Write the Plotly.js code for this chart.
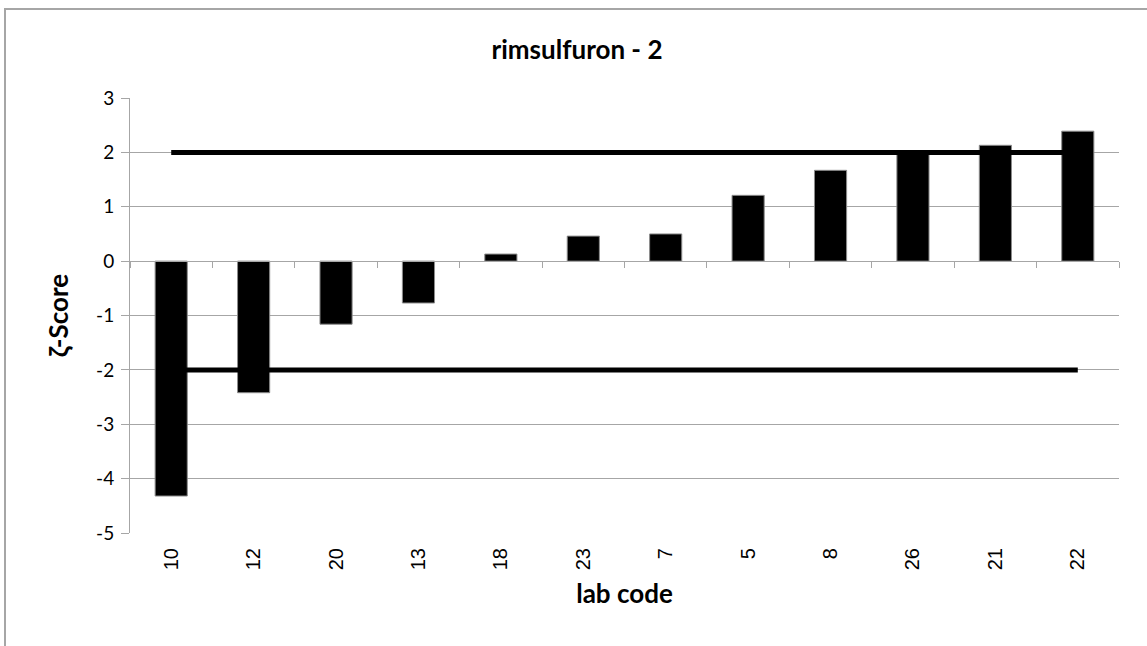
<!DOCTYPE html>
<html>
<head>
<meta charset="utf-8">
<script src="https://cdn.plot.ly/plotly-3.0.1.min.js"></script>
<style>
  html, body { margin: 0; padding: 0; background: #fff; overflow: hidden; }
  #wrap { position: relative; width: 1147px; height: 646px; }
  #chart { position: absolute; left: 0; top: 0; width: 1147px; height: 646px; }
  #frame { position: absolute; left: 4px; top: 8px; width: 1300px; height: 800px;
           border-left: 2px solid #a6a6a6; border-top: 2px solid #a6a6a6; pointer-events: none; }
</style>
</head>
<body>
<div id="wrap">
  <div id="chart"></div>
  <div id="frame"></div>
</div>
<script>
const labCodes = ['10','12','20','13','18','23','7','5','8','26','21','22'];
const zScores  = [-4.32, -2.42, -1.16, -0.77, 0.13, 0.46, 0.50, 1.21, 1.67, 1.97, 2.13, 2.39];
const upperLimit = [2,2,2,2,2,2,2,2,2,2,2,2];
const lowerLimit = [-2,-2,-2,-2,-2,-2,-2,-2,-2,-2,-2,-2];
const yTicks = [3,2,1,0,-1,-2,-3,-4,-5];

const gridCol = '#a6a6a6';
const catRange = [-0.5, labCodes.length - 0.5];
const traces = [
  {
    type: 'bar', x: labCodes, y: zScores,
    marker: { color: '#000000', line: { color: '#8c8c8c', width: 1 } },
    hoverinfo: 'x+y', showlegend: false
  },
  {
    type: 'scatter', mode: 'lines', x: labCodes, y: upperLimit,
    line: { color: '#000000', width: 5 }, showlegend: false, hoverinfo: 'skip'
  },
  {
    type: 'scatter', mode: 'lines', x: labCodes, y: lowerLimit,
    line: { color: '#000000', width: 5 }, showlegend: false, hoverinfo: 'skip'
  },
  {
    type: 'scatter', mode: 'lines', x: labCodes, y: zScores, xaxis: 'x2',
    line: { width: 0 }, opacity: 0, showlegend: false, hoverinfo: 'skip'
  }
];

const titleFont = 'Lato, "Open Sans", sans-serif';
const layout = {
  width: 1147, height: 646,
  margin: { l: 130, r: 28, t: 98, b: 113 },
  paper_bgcolor: '#ffffff', plot_bgcolor: '#ffffff',
  bargap: 0.61,
  title: {
    text: '<b>rimsulfuron - 2</b>',
    font: { family: titleFont, size: 26, color: '#000' },
    x: 577 / 1147, xref: 'container', xanchor: 'center',
    y: 1 - 50 / 646, yanchor: 'middle', yref: 'container'
  },
  xaxis: {
    type: 'category', categoryorder: 'array', categoryarray: labCodes,
    range: catRange, autorange: false,
    showgrid: false, zeroline: false, showline: false, ticks: '',
    tickangle: -90,
    tickfont: { family: '"Liberation Sans", Arial, sans-serif', size: 20, color: '#000' },
    ticklabelstandoff: 10,
    title: { text: '<b>lab code</b>', font: { family: titleFont, size: 26, color: '#000' }, standoff: 15 },
    fixedrange: true
  },
  xaxis2: {
    type: 'category', categoryorder: 'array', categoryarray: labCodes,
    range: catRange, autorange: false,
    overlaying: 'x', anchor: 'free', position: 0.625, side: 'bottom',
    showline: true, linecolor: gridCol, linewidth: 1,
    ticks: 'outside', tickson: 'boundaries', ticklen: 6, tickcolor: gridCol,
    showticklabels: false, showgrid: false, zeroline: false
  },
  yaxis: {
    range: [-5, 3], autorange: false, tickvals: yTicks, ticktext: yTicks.map(String),
    showgrid: true, gridcolor: gridCol, gridwidth: 1,
    zeroline: false, showline: true, linecolor: gridCol, linewidth: 1,
    ticks: 'outside', ticklen: 8, tickcolor: gridCol,
    tickfont: { family: titleFont, size: 19, color: '#000' },
    ticklabelstandoff: 3,
    title: { text: '<b>ζ-Score</b>', font: { family: titleFont, size: 26, color: '#000' }, standoff: 20 },
    fixedrange: true
  }
};

Plotly.newPlot('chart', traces, layout, { displayModeBar: false, staticPlot: true });
</script>
</body>
</html>
